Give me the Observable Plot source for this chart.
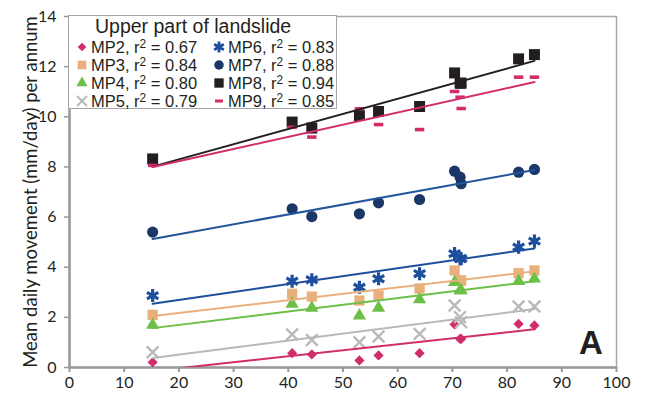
<!DOCTYPE html>
<html>
<head>
<meta charset="utf-8">
<script src="https://cdn.jsdelivr.net/npm/d3@7"></script>
<script src="https://cdn.jsdelivr.net/npm/@observablehq/plot@0.6"></script>
<style>
  body { margin: 0; background: white; }
  #wrap { position: relative; width: 649px; height: 400px; }
  #wrap svg g[aria-label="y-axis label"] text { font-size: 18.5px; }
  #legend { position: absolute; left: 68px; top: 15px; width: 269px; height: 94px;
            border: 1.5px solid #a6a6a6; background: white; box-sizing: border-box;
            font-family: "Liberation Sans", Arial, sans-serif; color: #231f20; }
  #legend .title { position: absolute; left: 26px; top: -1px; font-size: 19.5px; white-space: nowrap; }
  #legend .item { position: absolute; font-size: 16.5px; white-space: nowrap; line-height: 18px; }
  #legend .item svg { position: absolute; left: -16px; top: 2px; }
  #legend sup { font-size: 0.72em; vertical-align: 0.45em; line-height: 0; }
  #letter { position: absolute; left: 579px; top: 324px; font-family: "Liberation Sans", Arial, sans-serif;
            font-weight: bold; font-size: 33px; color: #231f20; }
</style>
</head>
<body>
<div id="wrap"></div>
<script>
// ---- data ----
const xValues = [15.2, 40.7, 44.3, 53.0, 56.5, 64.0, 70.4, 71.4, 71.6, 82.1, 85.0];
const mp2 = [0.21, 0.57, 0.52, 0.28, 0.48, 0.57, 1.72, 1.14, 1.14, 1.74, 1.68];
const mp3 = [2.10, 2.94, 2.83, 2.67, 2.87, 3.15, 3.87, 3.47, 3.47, 3.76, 3.87];
const mp4 = [1.70, 2.54, 2.38, 2.07, 2.38, 2.71, 3.40, 3.07, 3.07, 3.44, 3.54];
const mp5 = [0.61, 1.32, 1.10, 1.01, 1.24, 1.34, 2.47, 2.01, 1.81, 2.43, 2.43];
const mp6 = [2.87, 3.44, 3.50, 3.20, 3.54, 3.74, 4.54, 4.34, 4.34, 4.80, 5.04];
const mp7 = [5.40, 6.33, 6.02, 6.13, 6.57, 6.70, 7.83, 7.59, 7.33, 7.79, 7.90];
const mp8 = [8.32, 9.79, 9.55, 10.05, 10.21, 10.41, 11.75, 11.34, 11.34, 12.31, 12.48];
const mp9 = [8.06, 9.58, 9.19, 10.32, 9.69, 9.49, 11.01, 10.78, 10.33, 11.58, 11.58];
const seriesNames = ["MP2", "MP3", "MP4", "MP5", "MP6", "MP7", "MP8", "MP9"];
const r2Values = ["0.67", "0.84", "0.80", "0.79", "0.83", "0.88", "0.94", "0.85"];
const xTicks = [0, 10, 20, 30, 40, 50, 60, 70, 80, 90, 100];
const yTicks = [0, 2, 4, 6, 8, 10, 12, 14];
const yLabel = "Mean daily movement (mm/day) per annum";
const legendTitle = "Upper part of landslide";
const panelLetter = "A";

// ---- styles ----
const dashSymbol = {
  draw(context, size) {
    const w = Math.sqrt(size) * 0.95, h = w * 0.38;
    context.rect(-w / 2, -h / 2, w, h);
  }
};
const styles = {
  MP2: {color: "#d12d6c", line: "#d12d6c", symbol: "diamond2", r: 4.6, filled: true},
  MP3: {color: "#e9b07c", line: "#e9b07c", symbol: "square", r: 5.8, filled: true},
  MP4: {color: "#6cbf47", line: "#6cbf47", symbol: "triangle", r: 4.9, filled: true},
  MP5: {color: "#b9b9b9", line: "#b9b9b9", symbol: "times", r: 5.4, filled: false},
  MP6: {color: "#1d4f9e", line: "#1d4f9e", symbol: "asterisk", r: 6.2, filled: false},
  MP7: {color: "#1b3767", line: "#22559a", symbol: "circle", r: 5.6, filled: true},
  MP8: {color: "#231f20", line: "#231f20", symbol: "square", r: 6.2, filled: true},
  MP9: {color: "#d12d6c", line: "#d12d6c", symbol: dashSymbol, r: 5.6, filled: true}
};
const valuesByName = {MP2: mp2, MP3: mp3, MP4: mp4, MP5: mp5, MP6: mp6, MP7: mp7, MP8: mp8, MP9: mp9};
const rows = seriesNames.map(name => xValues.map((x, i) => ({x, y: valuesByName[name][i], name})));

const dotMarks = seriesNames.map((name, k) => {
  const s = styles[name];
  return Plot.dot(rows[k], {
    x: "x", y: "y", symbol: s.symbol, r: s.r,
    fill: s.filled ? s.color : "none",
    stroke: s.filled ? "none" : s.color,
    strokeWidth: name === "MP6" ? 3.2 : 2.4
  });
});
const lineMarks = seriesNames.map((name, k) =>
  Plot.linearRegressionY(rows[k], {x: "x", y: "y", stroke: styles[name].line, strokeWidth: 2, ci: 0, clip: true})
);

const chart = Plot.plot({
  width: 649, height: 400,
  marginLeft: 69, marginRight: 33, marginTop: 16, marginBottom: 33,
  x: {domain: [0, 100]},
  y: {domain: [0, 14]},
  style: {fontFamily: "Lato, sans-serif", fontSize: "16px", color: "#231f20", background: "white"},
  marks: [
    Plot.frame({stroke: "#a8a8a8", strokeWidth: 1.5}),
    Plot.axisX({ticks: xTicks, tickSize: 5, tickPadding: 4, stroke: "#999", strokeWidth: 2, label: null}),
    Plot.axisY({ticks: yTicks, tickSize: 5, tickPadding: 8, stroke: "#999", strokeWidth: 1.5,
      label: yLabel, labelAnchor: "center", labelOffset: 46, labelArrow: "none"}),
    Plot.ruleX([0], {stroke: "#999", strokeWidth: 2.5}),
    Plot.ruleY([0], {stroke: "#999", strokeWidth: 2.5}),
    ...dotMarks,
    ...lineMarks
  ]
});
const wrap = document.getElementById("wrap");
wrap.appendChild(chart);

// ---- legend ----
const legend = document.createElement("div");
legend.id = "legend";
const title = document.createElement("div");
title.className = "title";
title.textContent = legendTitle;
legend.appendChild(title);
const symbolTypes = {diamond2: d3.symbolDiamond2, square: d3.symbolSquare, triangle: d3.symbolTriangle,
  times: d3.symbolTimes, asterisk: d3.symbolAsterisk, circle: d3.symbolCircle};
seriesNames.forEach((name, k) => {
  const s = styles[name];
  const col = k < 4 ? 0 : 1, row = k % 4;
  const item = document.createElement("div");
  item.className = "item";
  item.style.left = (col === 0 ? 22 : 159) + "px";
  item.style.top = (22 + row * 18) + "px";
  const type = typeof s.symbol === "string" ? symbolTypes[s.symbol] : s.symbol;
  const size = Math.PI * (s.r * 0.85) ** 2;
  const path = d3.symbol().type(type).size(size)();
  item.innerHTML = `<svg width="14" height="14" viewBox="-7 -7 14 14"><path d="${path}" fill="${s.filled ? s.color : "none"}" stroke="${s.filled ? "none" : s.color}" stroke-width="${name === "MP6" ? 2.8 : 2}"/></svg>${name}, r<sup>2</sup> = ${r2Values[k]}`;
  legend.appendChild(item);
});
wrap.appendChild(legend);

const letter = document.createElement("div");
letter.id = "letter";
letter.textContent = panelLetter;
wrap.appendChild(letter);
</script>
</body>
</html>
